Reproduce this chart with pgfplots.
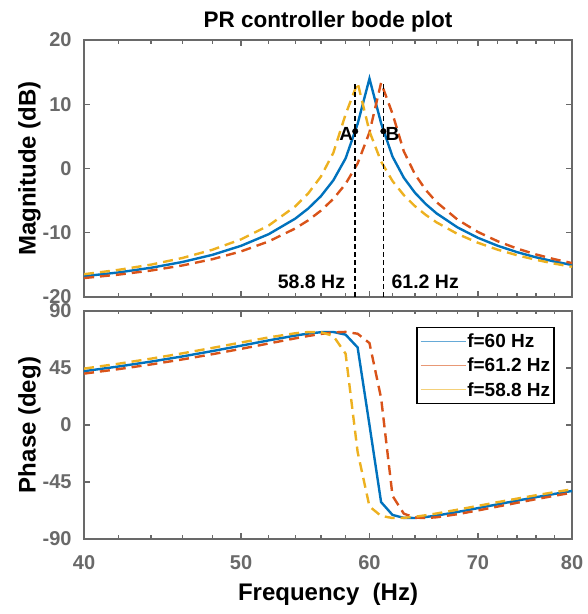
\documentclass[border=0pt]{standalone}
\usepackage{fontspec}
\setmainfont{Liberation Sans}
\usepackage{pgfplots}
\pgfplotsset{compat=1.18}
\definecolor{mblue}{rgb}{0,0.447,0.741}
\definecolor{mred}{rgb}{0.85,0.325,0.098}
\definecolor{myel}{rgb}{0.929,0.694,0.125}
\definecolor{axgray}{RGB}{105,105,105}
\pgfplotsset{
 bodestyle/.style={
  scale only axis, width=488pt, xmin=40, xmax=80,
  xtick={40,50,60,70,80},
  minor xtick={42,44,46,48,52,54,56,58,62,64,66,68,72,74,76,78},
  axis line style={axgray, line width=1.6pt},
  every tick/.style={axgray, line width=1.3pt},
  major tick length=6pt, minor tick length=3.5pt,
  tick align=inside,
  ticklabel style={text=axgray, font=\fontsize{20}{24}\selectfont\bfseries},
  xticklabel style={yshift=-13pt},
  yticklabel style={xshift=-9pt},
  ylabel shift=-5pt,
  xlabel shift=7pt,
  /pgf/number format/assume math mode=true,
  label style={font=\fontsize{24}{28}\selectfont\bfseries},
 },
 solidline/.style={mblue, line width=2.4pt},
 dashred/.style={mred, line width=2.4pt, dash pattern=on 10pt off 6pt},
 dashyel/.style={myel, line width=2.4pt, dash pattern=on 10pt off 6pt},
}
\begin{document}
\begin{tikzpicture}
\begin{axis}[xmode=log, bodestyle, name=mag, height=257pt,
  ymin=-20, ymax=20, ytick={-20,-10,0,10,20},
  xticklabels={},
  ylabel={Magnitude (dB)},
  title={PR controller bode plot},
  title style={font=\fontsize{22.5}{26}\selectfont\bfseries, yshift=-2pt},
]
\addplot[solidline] coordinates {
(40,-16.77) (42,-16.18) (44,-15.45) (46,-14.55) (48,-13.44) (50,-12.03) (52,-10.22) (54,-7.80) (55,-6.23) (56,-4.31) (57,-1.84) (58,1.58) (59,6.95) (60,13.99) (61,7.06) (62,1.85) (63,-1.43) (64,-3.76) (65,-5.54) (66,-6.98) (68,-9.17) (70,-10.79) (72,-12.03) (74,-13.02) (76,-13.82) (78,-14.47) (80,-15.02)};
\addplot[dashred] coordinates {
(40,-17.05) (42,-16.52) (44,-15.88) (46,-15.09) (48,-14.12) (50,-12.90) (52,-11.35) (54,-9.33) (55,-8.07) (56,-6.56) (57,-4.73) (58,-2.39) (59,0.79) (60,5.63) (61,13.34) (62,8.52) (63,2.68) (64,-0.87) (65,-3.35) (66,-5.23) (68,-7.96) (70,-9.88) (72,-11.33) (74,-12.46) (76,-13.37) (78,-14.11) (80,-14.72)};
\addplot[dashyel] coordinates {
(40,-16.45) (42,-15.78) (44,-14.96) (46,-13.93) (48,-12.65) (50,-11.02) (52,-8.87) (54,-5.89) (55,-3.88) (56,-1.26) (57,2.44) (58,8.44) (59,13.35) (60,5.77) (61,1.09) (62,-1.95) (63,-4.14) (64,-5.85) (65,-7.23) (66,-8.38) (68,-10.19) (70,-11.56) (72,-12.64) (74,-13.50) (76,-14.21) (78,-14.80) (80,-15.30)};
\addplot[black, line width=1.6pt, dash pattern=on 5pt off 3pt] coordinates {(58.8,-20) (58.8,13.2)};
\addplot[black, line width=1.6pt, dash pattern=on 5pt off 3pt] coordinates {(61.2,-20) (61.2,13.2)};
\addplot[only marks, mark=*, mark size=2.8pt, black] coordinates {(58.8,5.8) (61.2,5.8)};
\node[anchor=east, font=\fontsize{19}{22}\selectfont\bfseries, inner sep=1pt, xshift=-1pt, yshift=-3pt] at (axis cs:58.8,5.8) {A};
\node[anchor=west, font=\fontsize{19}{22}\selectfont\bfseries, inner sep=1pt, xshift=1pt, yshift=-3pt] at (axis cs:61.2,5.8) {B};
\node[anchor=base east, font=\fontsize{19.5}{22}\selectfont\bfseries, inner sep=0pt, xshift=-10pt] at (axis cs:58.8,-18.6) {58.8 Hz};
\node[anchor=base west, font=\fontsize{19.5}{22}\selectfont\bfseries, inner sep=0pt, xshift=8pt] at (axis cs:61.2,-18.6) {61.2 Hz};
\end{axis}
\begin{axis}[xmode=log, bodestyle, name=ph, at={(mag.south west)}, anchor=north west, yshift=-14pt,
  height=228pt,
  ymin=-90, ymax=90, ytick={-90,-45,0,45,90},
  xticklabels={40,50,60,70,80},
  xlabel={Frequency\ \ (Hz)},
  ylabel={Phase (deg)},
  legend cell align=left,
  legend style={at={(0.965,0.93)}, anchor=north east, draw=black, line width=1.5pt,
    font=\fontsize{19}{23}\selectfont\bfseries, inner xsep=3pt, inner ysep=5pt, row sep=7pt,
    nodes={inner sep=1pt}},
]
\addplot[solidline, forget plot] coordinates {
(40,42.49) (42,46.17) (44,50.06) (46,54.13) (48,58.35) (50,62.62) (52,66.81) (54,70.60) (55,72.17) (56,73.26) (57,73.42) (58,71.32) (59,61.21) (60,0) (61,-60.87) (62,-71.02) (63,-73.31) (64,-73.41) (65,-72.66) (66,-71.50) (68,-68.67) (70,-65.63) (72,-62.62) (74,-59.73) (76,-57.01) (78,-54.46) (80,-52.07)};
\addplot[dashred, forget plot] coordinates {
(40,40.56) (42,44.08) (44,47.82) (46,51.77) (48,55.88) (50,60.11) (52,64.35) (54,68.41) (55,70.27) (56,71.89) (57,73.10) (58,73.50) (59,72.05) (60,64.67) (61,21.35) (62,-55.92) (63,-70.00) (64,-73.10) (65,-73.48) (66,-72.85) (68,-70.41) (70,-67.45) (72,-64.39) (74,-61.42) (76,-58.58) (78,-55.92) (80,-53.43)};
\addplot[dashyel, forget plot] coordinates {
(40,44.52) (42,48.36) (44,52.39) (46,56.58) (48,60.86) (50,65.13) (52,69.14) (54,72.43) (55,73.39) (56,73.25) (57,70.32) (58,56.23) (59,-21.29) (60,-64.32) (61,-71.79) (62,-73.44) (63,-73.31) (64,-72.45) (65,-71.25) (66,-69.86) (68,-66.87) (70,-63.84) (72,-60.91) (74,-58.12) (76,-55.50) (78,-53.06) (80,-50.79)};
\addlegendimage{legend image code/.code={\draw[mblue!60, line width=1.1pt] (0pt,0pt) -- (45pt,0pt);}}
\addlegendentry{f=60 Hz}
\addlegendimage{legend image code/.code={\draw[mred!60, line width=1.1pt] (0pt,0pt) -- (45pt,0pt);}}
\addlegendentry{f=61.2 Hz}
\addlegendimage{legend image code/.code={\draw[myel!60, line width=1.1pt] (0pt,0pt) -- (45pt,0pt);}}
\addlegendentry{f=58.8 Hz}
\end{axis}
\pgfresetboundingbox
\useasboundingbox ([xshift=-84pt,yshift=40pt]mag.north west) rectangle ([xshift=504pt,yshift=-574pt]mag.north west);
\end{tikzpicture}
\end{document}
